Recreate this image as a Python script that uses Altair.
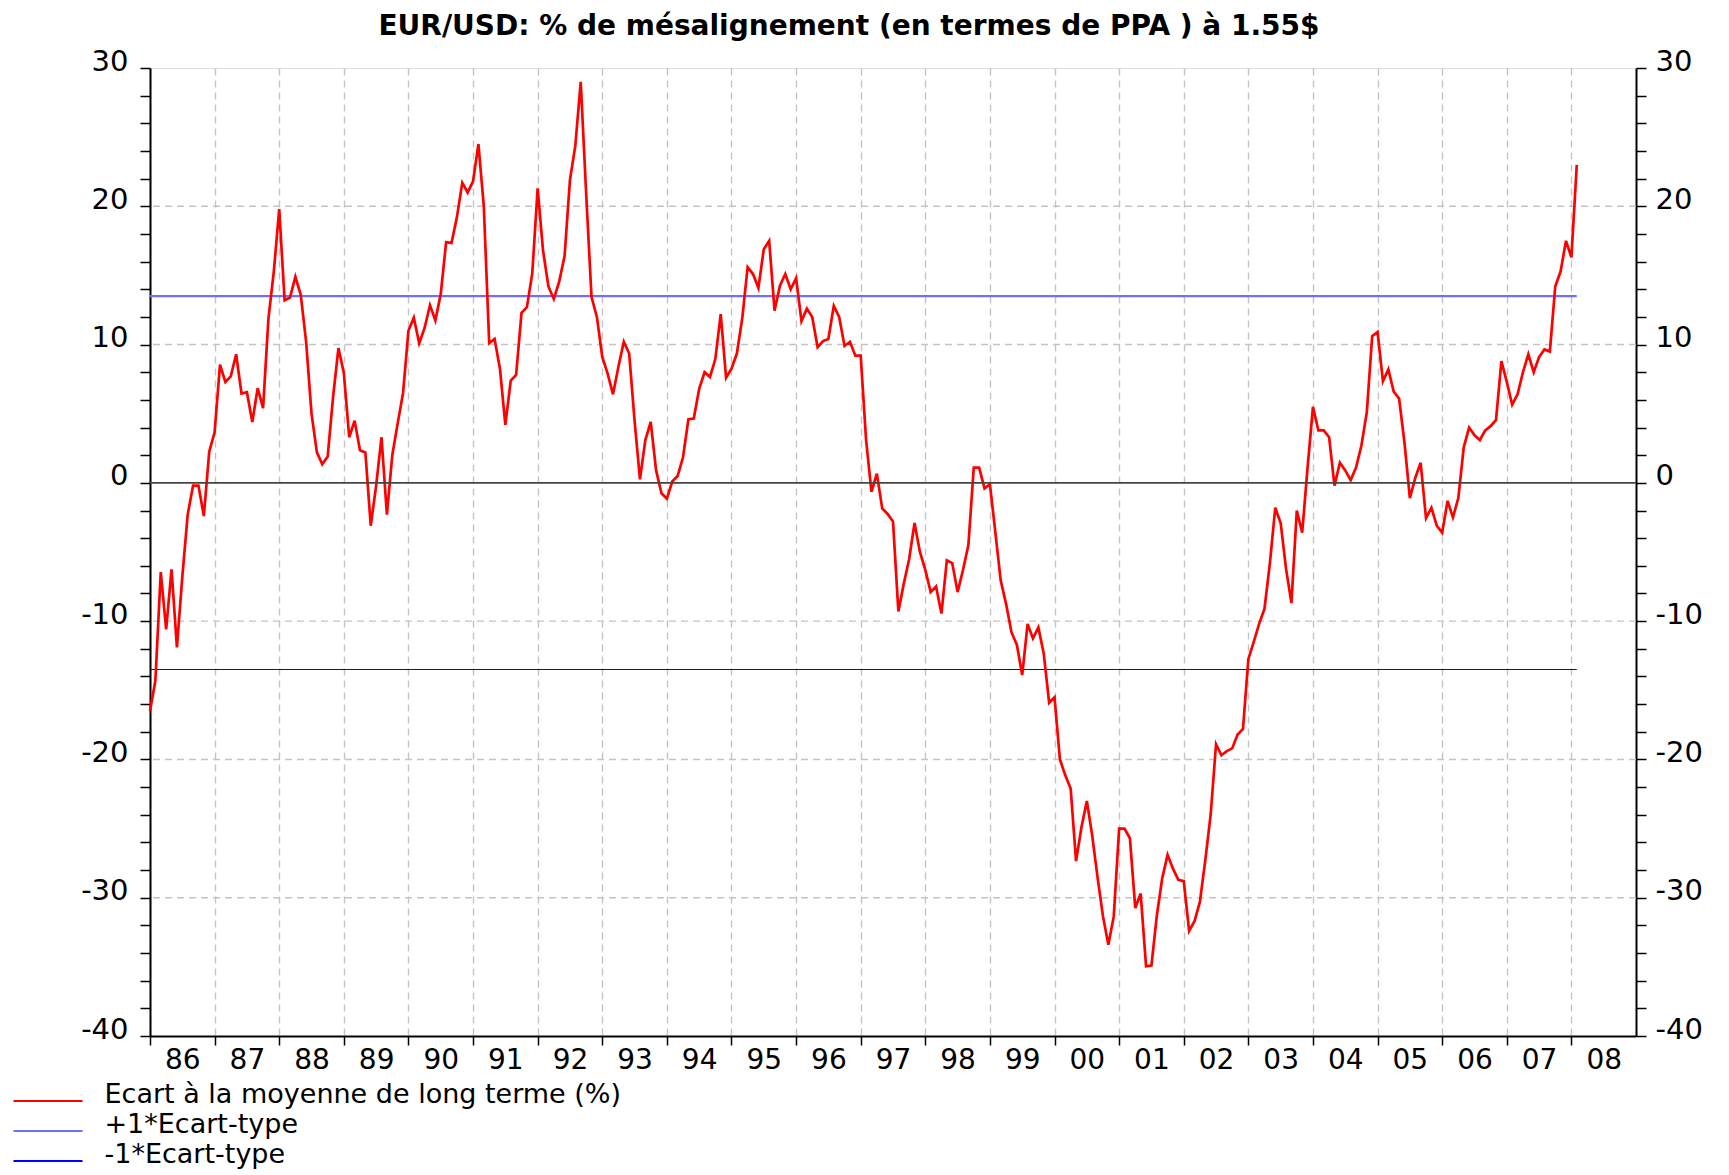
import altair as alt
import pandas as pd

title_text = "EUR/USD: % de mésalignement (en termes de PPA ) à 1.55$"
series_names = ["Ecart à la moyenne de long terme (%)", "+1*Ecart-type", "-1*Ecart-type"]
series_colors = ["#ff0000", "#7070ff", "#0000ff"]

start_year = 1986
# monthly values, Jan 1986 .. Feb 2008
ecart = [
    -16.5, -14.3, -6.45, -10.6, -6.25, -11.9, -6.8, -2.3, -0.2, -0.2, -2.4, 2.25,
    3.65, 8.55, 7.3, 7.7, 9.3, 6.45, 6.55, 4.4, 6.85, 5.4, 11.9, 15.3,
    19.8, 13.2, 13.4, 14.9, 13.6, 10.2, 5.0, 2.2, 1.35, 1.9, 6.2, 9.75,
    7.95, 3.3, 4.5, 2.35, 2.2, -3.1, -0.2, 3.3, -2.3, 2.0, 4.3, 6.5,
    11.0, 11.95, 10.1, 11.2, 12.85, 11.75, 13.65, 17.4, 17.35, 19.2, 21.7, 21.0,
    21.8, 24.5, 20.0, 10.1, 10.4, 8.25, 4.2, 7.4, 7.8, 12.3, 12.7, 15.15,
    21.3, 16.8, 14.2, 13.3, 14.55, 16.4, 21.9, 24.4, 29.0, 21.0, 13.45, 12.0,
    9.1, 7.9, 6.4, 8.4, 10.2, 9.35, 4.5, 0.25, 3.1, 4.4, 0.9, -0.75,
    -1.15, 0.1, 0.5, 1.85, 4.6, 4.65, 6.8, 8.0, 7.65, 8.95, 12.2, 7.6,
    8.25, 9.35, 11.9, 15.6, 15.1, 14.1, 16.9, 17.5, 12.45, 14.25, 15.1, 14.0,
    14.8, 11.7, 12.6, 12.0, 9.8, 10.25, 10.4, 12.8, 12.0, 9.9, 10.2, 9.2,
    9.2, 3.1, -0.65, 0.67, -1.85, -2.25, -2.8, -9.3, -7.3, -5.5, -2.9, -5.0,
    -6.3, -7.9, -7.5, -9.45, -5.6, -5.8, -7.9, -6.3, -4.5, 1.1, 1.1, -0.4,
    -0.1, -3.55, -7.05, -8.75, -10.8, -11.7, -13.9, -10.2, -11.25, -10.45, -12.35, -15.9,
    -15.5, -20.0, -21.15, -22.1, -27.35, -24.9, -23.0, -25.5, -28.55, -31.35, -33.4, -31.35,
    -25.0, -25.0, -25.7, -30.75, -29.7, -34.95, -34.9, -31.3, -28.6, -26.9, -27.9, -28.7,
    -28.8, -32.4, -31.7, -30.3, -27.3, -24.0, -18.9, -19.7, -19.4, -19.2, -18.2, -17.8,
    -12.75, -11.5, -10.2, -9.1, -5.8, -1.8, -2.9, -6.2, -8.7, -2.0, -3.6, 1.1,
    5.5, 3.8, 3.8, 3.3, -0.2, 1.45, 0.9, 0.2, 1.1, 2.7, 5.1, 10.6,
    10.9, 7.35, 8.2, 6.6, 6.1, 2.9, -1.1, 0.35, 1.45, -2.55, -1.8, -3.1,
    -3.6, -1.3, -2.5, -1.1, 2.55, 4.0, 3.45, 3.1, 3.8, 4.1, 4.55, 8.8,
    7.3, 5.65, 6.4, 8.0, 9.3, 8.0, 9.1, 9.65, 9.5, 14.2, 15.3, 17.5,
    16.3, 23.0,
]
ecart_type = 13.5

year_ticks = list(range(1986, 2009))
y_ticks = list(range(-40, 31, 2))
grid_levels = [-30, -20, -10, 10, 20]
zero_level = [0]

# ---- build tables ----
times = [start_year + i / 12 for i in range(len(ecart))]
red_df = pd.DataFrame({"t": times, "v": ecart, "s": series_names[0]})
up_df = pd.DataFrame({"t": times, "v": [ecart_type] * len(times), "s": series_names[1]})
lo_df = pd.DataFrame({"t": times, "v": [-ecart_type] * len(times), "s": series_names[2]})
grid_df = pd.DataFrame({"v": grid_levels})
zero_df = pd.DataFrame({"v": zero_level})

FONT = "DejaVu Sans"
W, H = 1486, 968
year_px = W / 23.0

x_scale = alt.Scale(domain=[1986, 2009], nice=False, zero=False)
y_scale = alt.Scale(domain=[-40, 30], nice=False, zero=False)
color_scale = alt.Scale(domain=series_names, range=series_colors)

x_axis = alt.Axis(
    values=year_ticks,
    labelExpr="slice(toString(datum.value), 2)",
    labelOffset=year_px / 2,
    labelFont=FONT,
    labelFontSize=28,
    labelColor="#000000",
    labelPadding=1,
    labelFlush=False,
    labelOverlap=False,
    title=None,
    grid=True,
    gridColor="#c4c4c4",
    gridDash=[7, 5],
    gridWidth=1.4,
    domainColor="#000000",
    domainWidth=2,
    tickColor="#000000",
    tickWidth=1.5,
    tickSize=9,
)

def y_axis(orient):
    return alt.Axis(
        orient=orient,
        values=y_ticks,
        labelExpr="datum.value % 10 === 0 ? toString(datum.value) : ''",
        labelFont=FONT,
        labelFontSize=29,
        labelColor="#000000",
        labelPadding=12 if orient == "left" else 9,
        labelOffset=-7,
        labelFlush=False,
        labelOverlap=False,
        title=None,
        grid=False,
        domainColor="#000000",
        domainWidth=2,
        tickColor="#000000",
        tickWidth=1.5,
        tickSize=10,
    )

legend = alt.Legend(
    title=None,
    orient="none",
    legendX=-117.5,
    legendY=1011,
    direction="vertical",
    symbolType="M-2.38,0.45L2.38,0.45",
    symbolSize=841,
    symbolStrokeWidth=2,
    labelFont=FONT,
    labelFontSize=27,
    labelColor="#000000",
    labelOffset=41,
    labelLimit=1200,
    rowPadding=1,
    padding=0,
)

x_enc = alt.X("t:Q", scale=x_scale, axis=x_axis)
y_left = alt.Y("v:Q", scale=y_scale, axis=y_axis("left"))
color_enc = alt.Color("s:N", scale=color_scale, legend=legend)

grid_layer = alt.Chart(grid_df).mark_rule(
    color="#c4c4c4", strokeDash=[7, 5], strokeWidth=1.4
).encode(y=y_left)

upper_layer = alt.Chart(up_df).mark_line(strokeWidth=2.2).encode(
    x=x_enc, y=y_left, color=color_enc
)
lower_layer = alt.Chart(lo_df).mark_line(strokeWidth=1.1).encode(
    x=x_enc, y=y_left, color=color_enc
)
red_layer = alt.Chart(red_df).mark_line(strokeWidth=2.7, strokeJoin="miter").encode(
    x=x_enc, y=y_left, color=color_enc
)

inner = alt.layer(grid_layer, upper_layer, lower_layer, red_layer)

zero_layer = alt.Chart(zero_df).mark_rule(color="#444444", strokeWidth=1.6).encode(
    y=alt.Y("v:Q", scale=y_scale, axis=y_axis("right"))
)

chart = (
    alt.layer(inner, zero_layer)
    .resolve_scale(y="independent")
    .properties(
        width=W,
        height=H,
        title=alt.TitleParams(
            text=title_text,
            font=FONT,
            fontSize=28,
            fontWeight="bold",
            color="#000000",
            anchor="middle",
            frame="group",
            dx=-44,
            offset=6,
        ),
        autosize=alt.AutoSizeParams(type="none"),
        padding={"left": 142, "top": 60, "right": 80, "bottom": 147},
    )
    .configure_view(stroke="#222222", strokeWidth=1.5)
    .configure(background="#ffffff")
)

chart.save("out.html", embed_options={"renderer": "svg", "actions": False})
